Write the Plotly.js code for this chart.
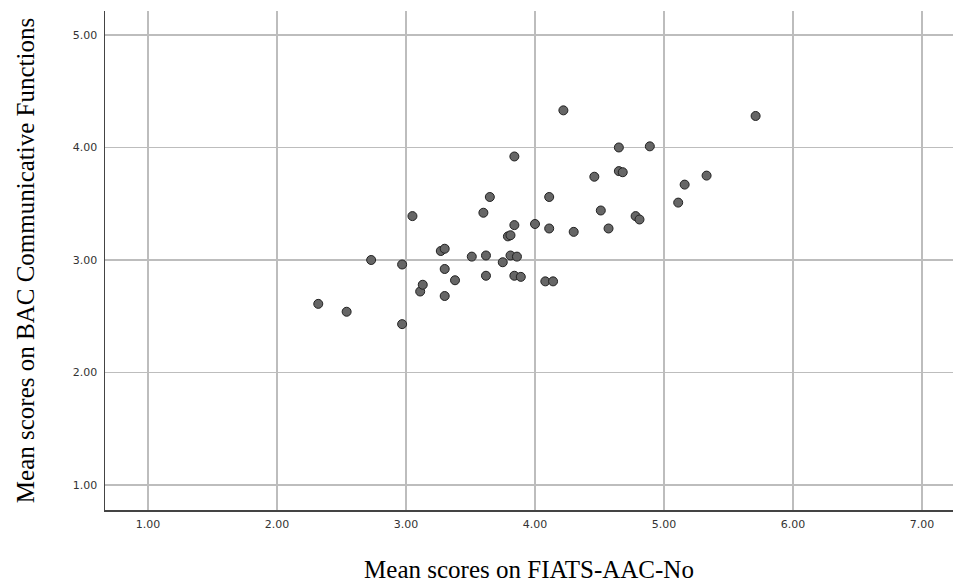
<!DOCTYPE html>
<html>
<head>
<meta charset="utf-8">
<script src="https://cdn.plot.ly/plotly-3.0.1.min.js"></script>
<style>html,body{margin:0;padding:0;background:#fff;}#chart{width:953px;height:585px;}</style>
</head>
<body>
<div id="chart"></div>
<script>
const fiatsScores = [2.32,2.54,2.73,2.97,2.97,3.05,3.11,3.13,3.27,3.30,3.30,3.30,3.38,3.51,3.60,3.62,3.62,3.65,3.75,3.79,3.81,3.81,3.84,3.84,3.84,3.86,3.89,4.00,4.08,4.11,4.11,4.14,4.22,4.30,4.46,4.51,4.57,4.65,4.65,4.68,4.78,4.81,4.89,5.11,5.16,5.33,5.71];
const bacScores   = [2.61,2.54,3.00,2.96,2.43,3.39,2.72,2.78,3.08,3.10,2.92,2.68,2.82,3.03,3.42,3.04,2.86,3.56,2.98,3.21,3.22,3.04,3.92,3.31,2.86,3.03,2.85,3.32,2.81,3.56,3.28,2.81,4.33,3.25,3.74,3.44,3.28,4.00,3.79,3.78,3.39,3.36,4.01,3.51,3.67,3.75,4.28];
const xTickVals = [1,2,3,4,5,6,7];
const yTickVals = [1,2,3,4,5];
const xTitle = "Mean scores on FIATS-AAC-No";
const yTitle = "Mean scores on BAC Communicative Functions";

const trace = {
  x: fiatsScores, y: bacScores, type: 'scatter', mode: 'markers',
  marker: {size: 9, color: '#666666', line: {color: '#222222', width: 1}},
  hoverinfo: 'x+y'
};
const tickFont = {family: 'DejaVu Sans, Verdana, sans-serif', size: 11, color: '#333'};
const titleFont = {family: 'Liberation Serif, Times New Roman, serif', size: 25, color: '#000'};
const layout = {
  width: 953, height: 585,
  margin: {l: 105, r: 0, t: 11, b: 75},
  paper_bgcolor: '#fff', plot_bgcolor: '#fff',
  showlegend: false,
  xaxis: {
    range: [0.667, 7.24], tickvals: xTickVals, ticktext: xTickVals.map(v => v.toFixed(2)),
    showgrid: true, gridcolor: '#bdbdbd', gridwidth: 1.5, zeroline: false,
    showline: true, linecolor: '#444', linewidth: 1.5, ticks: '',
    tickfont: tickFont, ticklabelstandoff: 3,
    title: {text: xTitle, font: titleFont, standoff: 31}
  },
  yaxis: {
    range: [0.778, 5.213], tickvals: yTickVals, ticktext: yTickVals.map(v => v.toFixed(2)),
    showgrid: true, gridcolor: '#bdbdbd', gridwidth: 1.5, zeroline: false,
    showline: true, linecolor: '#444', linewidth: 1.5, ticks: '',
    tickfont: tickFont, ticklabelstandoff: 4,
    title: {text: yTitle, font: titleFont, standoff: 31}
  }
};
Plotly.newPlot('chart', [trace], layout, {displayModeBar: false, staticPlot: true});
</script>
</body>
</html>
